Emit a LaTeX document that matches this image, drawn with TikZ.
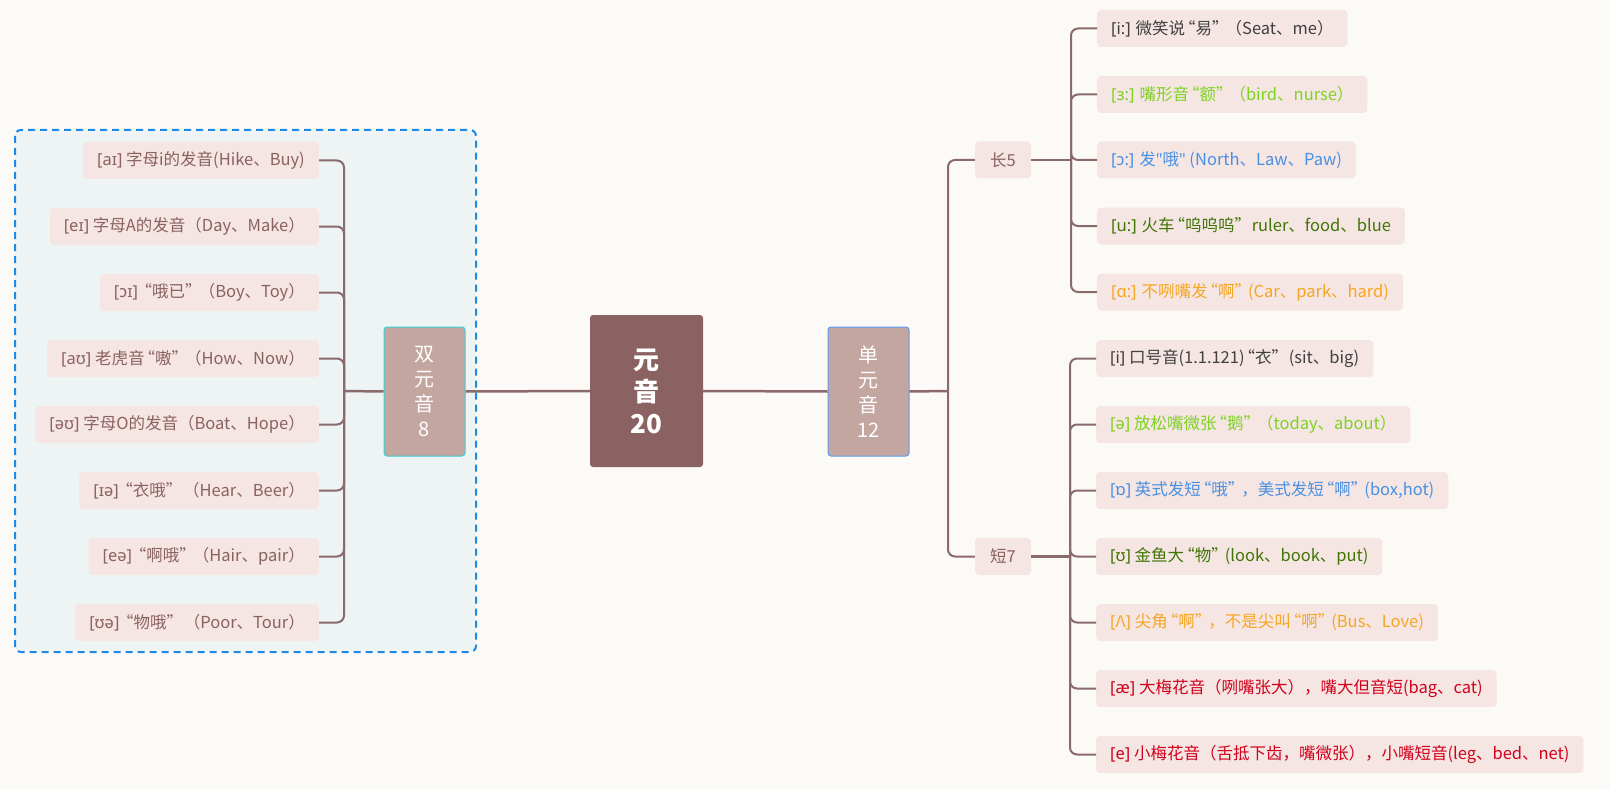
\documentclass[tikz,border=0pt]{standalone}
\usepackage{fontspec}
\setmainfont{Noto Sans CJK SC}
\newfontfamily\ipa{Noto Sans}
\newcommand\oq{\kern-6pt“}
\newcommand\cq{”\kern-3pt}
\definecolor{bg}{HTML}{FCFAF7}
\definecolor{leaffill}{HTML}{F5E5E3}
\definecolor{linec}{HTML}{8A6A6A}
\definecolor{rootfill}{HTML}{8A6262}
\definecolor{mainfill}{HTML}{C4A6A0}
\definecolor{cyanb}{HTML}{36D0D6}
\definecolor{blueb}{HTML}{5B9CF2}
\definecolor{dashb}{HTML}{1E88E5}
\definecolor{areafill}{HTML}{EEF4F4}
\definecolor{tbrown}{HTML}{8B6262}
\definecolor{tgray}{HTML}{404040}
\definecolor{tgreen}{HTML}{7ED321}
\definecolor{tblue}{HTML}{4A90E2}
\definecolor{tdkgreen}{HTML}{417505}
\definecolor{torange}{HTML}{F5A623}
\definecolor{tred}{HTML}{D0021B}
\tikzset{
  leaf/.style={fill=leaffill, rounded corners=4pt, inner xsep=14pt, inner ysep=0pt,
    minimum height=37pt, font=\fontsize{16.5}{19}\selectfont},
  leafL/.style={leaf, anchor=east, text=tbrown},
  leafR/.style={leaf, anchor=west},
  mainbox/.style={fill=mainfill, rounded corners=3pt, line width=1pt, minimum width=81pt,
    minimum height=129pt, text=white, align=center, font=\fontsize{20}{25}\selectfont},
  conn/.style={draw=linec, line width=2pt, rounded corners=7pt},
  trunk/.style={draw=linec, line width=2.5pt},
}
\begin{document}
\begin{tikzpicture}[x=1pt,y=-1pt]
\fill[bg] (0,0) rectangle (1610,789);
\useasboundingbox (0,0) rectangle (1610,789);
% dashed area
\draw[dashb, fill=areafill, line width=2pt, dash pattern=on 7pt off 5pt, rounded corners=6pt] (15,130) rectangle (476,652);

% root and main nodes
\node[fill=rootfill, rounded corners=3pt, minimum width=113pt, minimum height=152pt, text=white,
  align=center, font=\fontsize{26}{32}\selectfont\bfseries] (root) at (646.5,391) {元\\音\\20};
\node[mainbox, draw=cyanb] (shuang) at (424.5,391.5) {双\\元\\音\\8};
\node[mainbox, draw=blueb] (dan) at (868.5,391.5) {单\\元\\音\\12};

\draw[trunk] (shuang.east) -- (root.west);
\draw[trunk] (root.east) -- (dan.west);

% left leaves
\node[leafL] (l1) at (319,160.5) {{\ipa [aɪ]} 字母i的发音(Hike、Buy)};
\node[leafL] (l2) at (319,226.5) {{\ipa [eɪ]} 字母A的发音（Day、Make）};
\node[leafL] (l3) at (319,292.5) {{\ipa [ɔɪ]} \oq 哦已\cq （Boy、Toy）};
\node[leafL] (l4) at (319,358.5) {{\ipa [aʊ]} 老虎音\oq 嗷\cq （How、Now）};
\node[leafL] (l5) at (319,424.5) {{\ipa [əʊ]} 字母O的发音（Boat、Hope）};
\node[leafL] (l6) at (319,490.5) {{\ipa [ɪə]} \oq 衣哦\cq \ （Hear、Beer）};
\node[leafL] (l7) at (319,556.5) {{\ipa [eə]} \oq 啊哦\cq （Hair、pair）};
\node[leafL] (l8) at (319,622.5) {{\ipa [ʊə]} \oq 物哦\cq \ （Poor、Tour）};

\coordinate (jL) at (344,391);
\draw[trunk] (shuang.west) -- (jL);
\foreach \n in {l1,l2,l3,l4,l5,l6,l7,l8}{\draw[conn] (jL) |- (\n.east);}

% right: long / short
\node[leaf, anchor=center, inner xsep=0pt, minimum width=56pt, text=tbrown] (chang) at (1003,160) {长5};
\node[leaf, anchor=center, inner xsep=0pt, minimum width=56pt, text=tbrown] (duan) at (1003,556.5) {短7};
\coordinate (jR) at (948,391);
\draw[trunk] (dan.east) -- (jR);
\draw[conn] (jR) |- (chang.west);
\draw[conn] (jR) |- (duan.west);

\node[leafR, text=tgray] (r1) at (1097,28.5) {{\ipa [i:]} 微笑说\oq 易\cq （Seat、me）};
\node[leafR, text=tgreen] (r2) at (1097,94.5) {{\ipa [ɜ:]} 嘴形音\oq 额\cq （bird、nurse）};
\node[leafR, text=tblue] (r3) at (1097,160) {{\ipa [ɔ:]} 发{\ipa "}哦{\ipa "} (North、Law、Paw)};
\node[leafR, text=tdkgreen] (r4) at (1097,226) {{\ipa [u:]} 火车\oq 呜呜呜\cq \ ruler、food、blue};
\node[leafR, text=torange] (r5) at (1097,292) {{\ipa [ɑ:]} 不咧嘴发\oq 啊\cq (Car、park、hard)};

\coordinate (jC) at (1071,160);
\draw[trunk] (chang.east) -- (jC);
\foreach \n in {r1,r2,r3,r4,r5}{\draw[conn] (jC) |- (\n.west);}

\node[leafR, text=tgray] (s1) at (1096,358.5) {{\ipa [i]} 口号音(1.1.121)\oq 衣\cq \ (sit、big)};
\node[leafR, text=tgreen] (s2) at (1096,424.5) {{\ipa [ə]} 放松嘴微张\oq 鹅\cq （today、about）};
\node[leafR, text=tblue] (s3) at (1096,490.5) {{\ipa [ɒ]} 英式发短\oq 哦\cq ，美式发短\oq 啊\cq (box,hot)};
\node[leafR, text=tdkgreen] (s4) at (1096,556.5) {{\ipa [ʊ]} 金鱼大\oq 物\cq (look、book、put)};
\node[leafR, text=torange] (s5) at (1096,622.5) {{\ipa [Λ]} 尖角\oq 啊\cq ，不是尖叫\oq 啊\cq (Bus、Love)};
\node[leafR, text=tred] (s6) at (1096,688.5) {{\ipa [æ]} 大梅花音（咧嘴张大），嘴大但音短(bag、cat)};
\node[leafR, text=tred] (s7) at (1096,754.5) {{\ipa [e]} 小梅花音（舌抵下齿，嘴微张），小嘴短音(leg、bed、net)};

\coordinate (jD) at (1070,556.5);
\draw[trunk] (duan.east) -- (jD);
\foreach \n in {s1,s2,s3,s4,s5,s6,s7}{\draw[conn] (jD) |- (\n.west);}
\end{tikzpicture}
\end{document}
